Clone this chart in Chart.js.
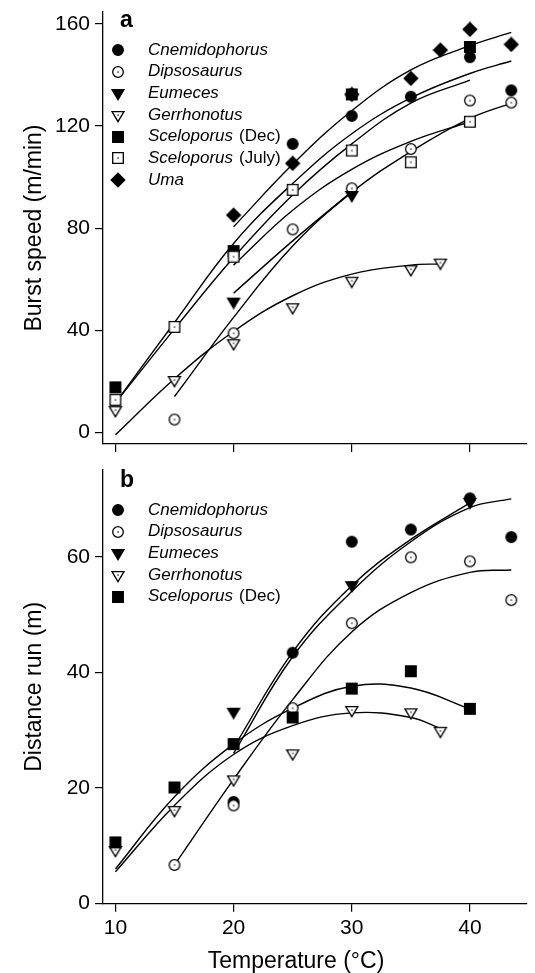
<!DOCTYPE html>
<html>
<head>
<meta charset="utf-8">
<script src="https://cdn.jsdelivr.net/npm/chart.js@4.4.1/dist/chart.umd.min.js"></script>
<style>
  html, body { margin: 0; padding: 0; background: #fff; }
  #wrap { position: relative; width: 535px; height: 973px; }
  #speedChart { position: absolute; left: 0; top: 0; }
  #distanceChart { position: absolute; left: 0; top: 460px; }
</style>
</head>
<body>
<div id="wrap">
  <canvas id="speedChart" width="535" height="460"></canvas>
  <canvas id="distanceChart" width="535" height="513"></canvas>
</div>
<script>
// axis ticks
const temperatureTicks = [10, 20, 30, 40];
const speedTicks = [0, 40, 80, 120, 160];
const distanceTicks = [0, 20, 40, 60];

const speciesNames = ['Cnemidophorus', 'Dipsosaurus', 'Eumeces', 'Gerrhonotus', 'Sceloporus', 'Sceloporus', 'Uma'];
const speciesNotes = ['', '', '', '', '(Dec)', '(July)', ''];

// panel a: burst speed (m/min), [temperature, value]
const speedCnemidophorus = [[25, 113], [30, 124], [35, 131.5], [40, 147], [43.5, 134]];
const speedDipsosaurus = [[15, 5], [20, 38.8], [25, 79.5], [30, 95.6], [35, 111], [40, 130], [43.5, 129.2]];
const speedEumeces = [[20, 51.2], [30, 93]];
const speedGerrhonotus = [[10, 8.7], [15, 20.5], [20, 34.9], [25, 49], [30, 59.4], [35, 63.9], [37.5, 66.5]];
const speedSceloporusDec = [[10, 17.6], [20, 71], [30, 132.4], [40, 151]];
const speedSceloporusJuly = [[10, 12.7], [15, 41.3], [20, 68.8], [25, 95], [30, 110.4], [35, 105.8], [40, 121.7]];
const speedUma = [[20, 85.1], [25, 105.4], [30, 132.4], [35, 138.7], [37.5, 149.8], [40, 157.9], [43.5, 152]];

// panel a fitted curves
const speedCurveCnemidophorus = [[10, 11.5], [15, 43], [20, 74], [25, 97.5], [30, 117], [35, 131], [40, 140.6], [43.5, 145.5]];
const speedCurveDipsosaurus = [[15, 14], [20, 45], [25, 73], [30, 94], [35, 110], [40, 123], [43.5, 129]];
const speedCurveEumeces = [[20, 54.5], [25, 75], [30, 94.3]];
const speedCurveGerrhonotus = [[10, -1], [15, 21], [20, 39.5], [25, 53.5], [30, 62], [35, 65.5], [37.5, 66]];
const speedCurveSceloporusDec = [[10, 11.5], [15, 40.5], [20, 68.5], [25, 93], [30, 113], [35, 129], [40, 138]];
const speedCurveSceloporusJuly = [[20, 65.5], [25, 87], [30, 103], [35, 114], [40, 121.7]];
const speedCurveUma = [[20, 80.5], [25, 105], [30, 126], [35, 142], [40, 151.5], [43.5, 156.7]];

// panel b: distance run (m)
const distCnemidophorus = [[20, 17.6], [25, 43.4], [30, 62.6], [35, 64.7], [40, 70.1], [43.5, 63.4]];
const distDipsosaurus = [[15, 6.7], [20, 17], [25, 33.8], [30, 48.5], [35, 59.9], [40, 59.2], [43.5, 52.5]];
const distEumeces = [[20, 33.2], [30, 55.1], [40, 69.5]];
const distGerrhonotus = [[10, 9.3], [15, 16.2], [20, 21.5], [25, 26], [30, 33.5], [35, 33.1], [37.5, 29.9]];
const distSceloporusDec = [[10, 10.6], [15, 20.1], [20, 27.6], [25, 32.2], [30, 37.2], [35, 40.2], [40, 33.7]];

const distCurveCnemidophorus = [[20, 26], [25, 42.7], [30, 54], [35, 62.6], [40, 68.5], [43.5, 70]];
const distCurveDipsosaurus = [[15, 6.7], [20, 21.5], [25, 35.3], [30, 47], [35, 53.8], [40, 57.3], [43.5, 57.7]];
const distCurveEumeces = [[20, 27], [25, 43.5], [30, 55], [35, 63], [40, 69.3]];
const distCurveGerrhonotus = [[10, 5.5], [15, 17], [20, 25.8], [25, 30.8], [30, 33], [35, 32.2], [37.5, 30.3]];
const distCurveSceloporusDec = [[10, 6], [15, 18.5], [20, 27.6], [25, 33.8], [30, 37.6], [35, 37.3], [40, 33.7]];

const FONT = "'Liberation Sans', Arial, Helvetica, sans-serif";
Chart.defaults.font.family = FONT;
Chart.defaults.color = '#000';

function makeMarker(shape, filled) {
    const c = document.createElement('canvas');
    c.width = 16; c.height = 16;
    const g = c.getContext('2d');
    g.lineWidth = 1.3;
    g.strokeStyle = '#000';
    g.beginPath();
    if (shape === 'circle') g.arc(8, 8, 5.3, 0, Math.PI * 2);
    if (shape === 'triangle') { g.moveTo(2, 4.7); g.lineTo(14, 4.7); g.lineTo(8, 14.7); g.closePath(); }
    if (shape === 'square') g.rect(2.7, 2.7, 10.6, 10.6);
    if (shape === 'diamond') { g.moveTo(8, 1.2); g.lineTo(14.8, 8); g.lineTo(8, 14.8); g.lineTo(1.2, 8); g.closePath(); }
    g.fillStyle = filled ? '#000' : '#fff';
    g.fill();
    g.stroke();
    if (!filled) { g.fillStyle = '#000'; g.fillRect(7.4, 7.4, 1.3, 1.3); }
    return c;
}

const markers = [
    makeMarker('circle', true), makeMarker('circle', false),
    makeMarker('triangle', true), makeMarker('triangle', false),
    makeMarker('square', true), makeMarker('square', false),
    makeMarker('diamond', true)
];

function toXY(arr) { return arr.map(p => ({ x: p[0], y: p[1] })); }

function buildDatasets(pointSets, curveSets) {
    const sets = [];
    curveSets.forEach(c => sets.push({
        data: toXY(c), showLine: true, pointRadius: 0, borderColor: '#000', borderWidth: 1.4,
        tension: 0.4, fill: false, order: 10, clip: false
    }));
    pointSets.forEach((pts, i) => sets.push({
        data: toXY(pts), showLine: false, pointStyle: markers[i], pointRadius: 7, order: -i, clip: false
    }));
    return sets;
}

function decor(letter, count, xTitle) {
    return {
        id: 'decor' + letter,
        afterDraw(chart) {
            const ctx = chart.ctx;
            ctx.save();
            ctx.fillStyle = '#000';
            ctx.textAlign = 'left';
            ctx.textBaseline = 'alphabetic';
            ctx.font = 'bold 23px ' + FONT;
            ctx.fillText(letter, 120, 26.5);
            for (let i = 0; i < count; i++) {
                const y = 50 + i * 21.67;
                const img = markers[i];
                ctx.drawImage(img, Math.round(118 - img.width / 2), Math.round(y - img.height / 2));
                ctx.textBaseline = 'middle';
                ctx.font = 'italic 17px ' + FONT;
                ctx.fillText(speciesNames[i], 148, y);
                if (speciesNotes[i]) {
                    const w = ctx.measureText(speciesNames[i]).width;
                    ctx.font = '17px ' + FONT;
                    ctx.fillText(speciesNotes[i], 148 + w + 6, y);
                }
            }
            if (xTitle) {
                ctx.font = '23px ' + FONT;
                ctx.textAlign = 'center';
                ctx.textBaseline = 'middle';
                ctx.fillText(xTitle, 296, 502);
            }
            ctx.restore();
        }
    };
}

function axisStyle() {
    return {
        grid: { drawOnChartArea: false, drawTicks: true, tickLength: 8, color: '#000', lineWidth: 1.2 },
        border: { display: true, color: '#000', width: 1.3 }
    };
}

function makeChart(id, pointSets, curveSets, yMin, yMax, yTicks, yTitle, topPad, xHeight, showXLabels, letter, xTitle) {
    const ctx = document.getElementById(id).getContext('2d');
    return new Chart(ctx, {
        type: 'scatter',
        data: { datasets: buildDatasets(pointSets, curveSets) },
        options: {
            responsive: false,
            animation: false,
            layout: { padding: { top: topPad, left: 0, right: 0, bottom: 0 } },
            plugins: { legend: { display: false }, tooltip: { enabled: false } },
            scales: {
                x: Object.assign(axisStyle(), {
                    type: 'linear', position: 'bottom', min: 8.95, max: 44.83,
                    afterBuildTicks: s => { s.ticks = temperatureTicks.map(v => ({ value: v })); },
                    afterFit: s => { s.height = xHeight; s.paddingLeft = 0; s.paddingRight = 0; },
                    ticks: { display: showXLabels, color: '#000', font: { size: 21 }, padding: 4, maxRotation: 0 }
                }),
                y: Object.assign(axisStyle(), {
                    type: 'linear', min: yMin, max: yMax,
                    afterBuildTicks: s => { s.ticks = yTicks.map(v => ({ value: v })); },
                    afterFit: s => { s.width = 103; s.paddingTop = 0; s.paddingBottom = 0; },
                    ticks: { color: '#000', font: { size: 21 }, padding: 5 },
                    title: { display: true, text: yTitle, color: '#000', font: { size: 23 }, padding: { top: 21, bottom: 0 } }
                })
            }
        },
        plugins: [decor(letter, pointSets.length, xTitle)]
    });
}

document.addEventListener('DOMContentLoaded', function () {
    makeChart('speedChart',
        [speedCnemidophorus, speedDipsosaurus, speedEumeces, speedGerrhonotus, speedSceloporusDec, speedSceloporusJuly, speedUma],
        [speedCurveCnemidophorus, speedCurveDipsosaurus, speedCurveEumeces, speedCurveGerrhonotus, speedCurveSceloporusDec, speedCurveSceloporusJuly, speedCurveUma],
        -4.6, 164.7, speedTicks, 'Burst speed (m/min)', 12, 16, false, 'a', null);

    makeChart('distanceChart',
        [distCnemidophorus, distDipsosaurus, distEumeces, distGerrhonotus, distSceloporusDec],
        [distCurveCnemidophorus, distCurveDipsosaurus, distCurveEumeces, distCurveGerrhonotus, distCurveSceloporusDec],
        0, 75, distanceTicks, 'Distance run (m)', 10, 69.3, true, 'b', 'Temperature (°C)');
});
</script>
</body>
</html>
